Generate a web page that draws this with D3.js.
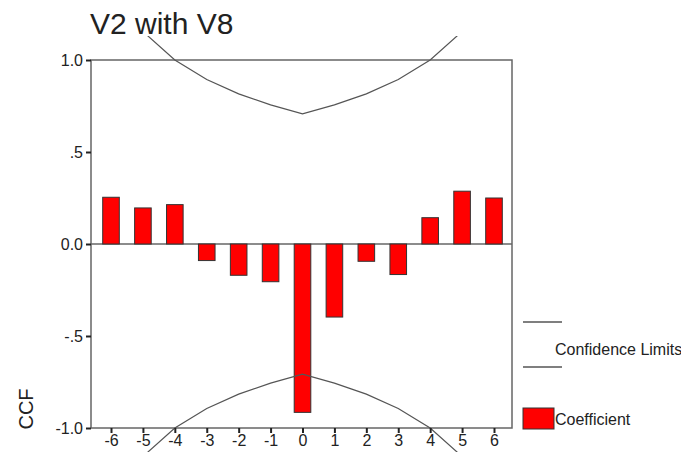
<!DOCTYPE html>
<html>
<head>
<meta charset="utf-8">
<script src="https://cdn.jsdelivr.net/npm/d3@7"></script>
<style>
  body { margin: 0; background: #fff; }
  text { font-family: Arial, 'Liberation Sans', sans-serif; fill: #222; }
</style>
</head>
<body>
<div id="chart"></div>
<script>
// lags and cross-correlation coefficients
const lags = [-6, -5, -4, -3, -2, -1, 0, 1, 2, 3, 4, 5, 6]
const coefficients = [0.254, 0.196, 0.214, -0.09, -0.17, -0.205, -0.915, -0.397, -0.094, -0.166, 0.143, 0.287, 0.25]
// confidence limits (upper), lower is the mirror
const limitLags = [-6, -5, -4, -3, -2, -1, 0, 1, 2, 3, 4, 5, 6]
const limitValues = [1.41, 1.155, 1.0, 0.894, 0.816, 0.756, 0.707, 0.756, 0.816, 0.894, 1.0, 1.155, 1.41]
const yTicks = [1, 0.5, 0, -0.5, -1]
const yTickLabels = ['1.0', '.5', '0.0', '-.5', '-1.0']

const width = 681
const height = 456
const plot = { left: 91, right: 512, top: 60, bottom: 428 }

const svg = d3
  .select('#chart')
  .append('svg')
  .attr('width', width)
  .attr('height', height)

const xPositionScale = d3
  .scalePoint()
  .domain(lags)
  .range([111, 494])

const yPositionScale = d3
  .scaleLinear()
  .domain([-1, 1])
  .range([plot.bottom, plot.top])

const barWidth = xPositionScale.step() * 0.52

// title
svg
  .append('text')
  .attr('x', 90)
  .attr('y', 34)
  .attr('font-size', 30)
  .text('V2 with V8')

// frame
svg
  .append('rect')
  .attr('x', plot.left)
  .attr('y', plot.top)
  .attr('width', plot.right - plot.left)
  .attr('height', plot.bottom - plot.top)
  .attr('fill', 'none')
  .attr('stroke', '#666')
  .attr('stroke-width', 1.5)

// zero line
svg
  .append('line')
  .attr('x1', plot.left)
  .attr('x2', plot.right)
  .attr('y1', yPositionScale(0))
  .attr('y2', yPositionScale(0))
  .attr('stroke', '#666')
  .attr('stroke-width', 1.5)

// bars
svg
  .selectAll('.bar')
  .data(lags)
  .enter()
  .append('rect')
  .attr('class', 'bar')
  .attr('x', d => xPositionScale(d) - barWidth / 2)
  .attr('width', barWidth)
  .attr('y', (d, i) => yPositionScale(Math.max(0, coefficients[i])))
  .attr('height', (d, i) => Math.abs(yPositionScale(coefficients[i]) - yPositionScale(0)))
  .attr('fill', '#ff0000')
  .attr('stroke', '#333')
  .attr('stroke-width', 1)

// confidence limits, clipped a bit outside the frame
svg
  .append('clipPath')
  .attr('id', 'clip')
  .append('rect')
  .attr('x', 0)
  .attr('width', width)
  .attr('y', yPositionScale(1.13))
  .attr('height', yPositionScale(-1.13) - yPositionScale(1.13))

const line = d3
  .line()
  .x((d, i) => xPositionScale(limitLags[i]))
  .y(d => yPositionScale(d))

svg
  .selectAll('.limit')
  .data([limitValues, limitValues.map(d => -d)])
  .enter()
  .append('path')
  .attr('class', 'limit')
  .attr('d', line)
  .attr('clip-path', 'url(#clip)')
  .attr('fill', 'none')
  .attr('stroke', '#555')
  .attr('stroke-width', 1.2)

// y axis
const yAxis = svg
  .append('g')
  .attr('transform', `translate(${plot.left},0)`)
  .call(
    d3
      .axisLeft(yPositionScale)
      .tickValues(yTicks)
      .tickSize(5)
      .tickFormat((d, i) => yTickLabels[i])
  )
yAxis.select('.domain').remove()
yAxis.selectAll('line').attr('stroke', '#222').attr('stroke-width', 2)
yAxis
  .selectAll('text')
  .attr('font-size', 16)
  .attr('x', -8)
  .attr('fill', '#222')

// x axis
const xAxis = svg
  .append('g')
  .attr('transform', `translate(0,${plot.bottom})`)
  .call(d3.axisBottom(xPositionScale).tickSize(5))
xAxis.select('.domain').remove()
xAxis.selectAll('line').attr('stroke', '#222').attr('stroke-width', 2)
xAxis
  .selectAll('text')
  .attr('font-size', 16)
  .attr('y', 7)
  .attr('fill', '#222')

// y label
svg
  .append('text')
  .attr('transform', 'translate(33,409) rotate(-90)')
  .attr('text-anchor', 'middle')
  .attr('font-size', 20)
  .text('CCF')

// legend
const legend = svg.append('g')
legend
  .selectAll('.leg-line')
  .data([322, 367])
  .enter()
  .append('line')
  .attr('x1', 523)
  .attr('x2', 562)
  .attr('y1', d => d)
  .attr('y2', d => d)
  .attr('stroke', '#555')
  .attr('stroke-width', 1.5)

legend
  .append('text')
  .attr('x', 555)
  .attr('y', 355)
  .attr('font-size', 16)
  .text('Confidence Limits')

legend
  .append('rect')
  .attr('x', 523)
  .attr('y', 408)
  .attr('width', 31)
  .attr('height', 21)
  .attr('fill', '#ff0000')
  .attr('stroke', '#333')

legend
  .append('text')
  .attr('x', 555)
  .attr('y', 425)
  .attr('font-size', 16)
  .text('Coefficient')
</script>
</body>
</html>
